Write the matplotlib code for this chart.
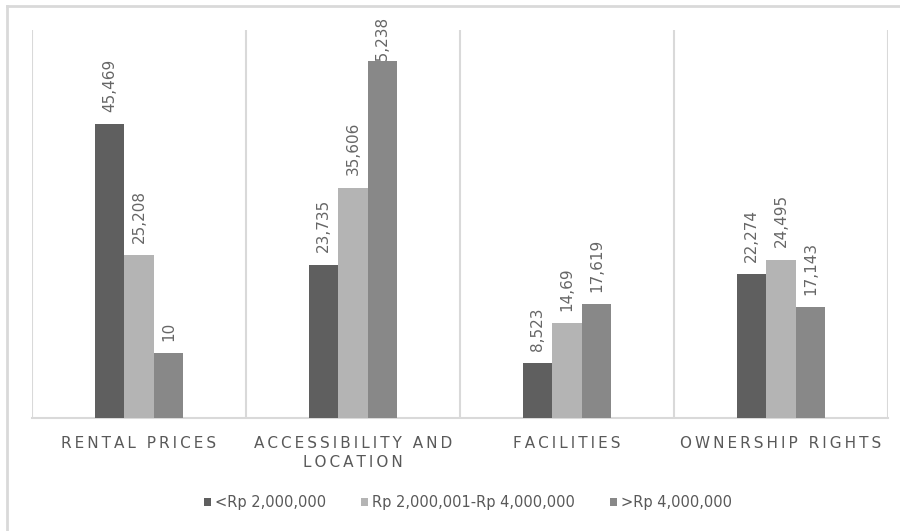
import numpy as np
import matplotlib.pyplot as plt
from matplotlib.lines import Line2D

categories = ['RENTAL PRICES', 'ACCESSIBILITY AND\nLOCATION', 'FACILITIES', 'OWNERSHIP RIGHTS']
series_names = ['<Rp 2,000,000', 'Rp 2,000,001-Rp 4,000,000', '>Rp 4,000,000']
low_income = [45.469, 23.735, 8.523, 22.274]
mid_income = [25.208, 35.606, 14.69, 24.495]
high_income = [10, 55.238, 17.619, 17.143]
value_labels = [
    ['45,469', '23,735', '8,523', '22,274'],
    ['25,208', '35,606', '14,69', '24,495'],
    ['10', '55,238', '17,619', '17,143'],
]

colors = ['#5f5f5f', '#b4b4b4', '#888888']
grid_color = '#d9d9d9'
text_color = '#595959'


def spaced(s):
    # wide letter spacing for the category captions
    return '\n'.join('\u2009'.join(line) for line in s.split('\n'))


fig = plt.figure(figsize=(9.0, 5.31), dpi=100)
ax = fig.add_axes([32 / 900, 113 / 531, 856 / 900, 388 / 531])

x = np.arange(len(categories))
w = 0.137
series = [low_income, mid_income, high_income]
for k, vals in enumerate(series):
    bars = ax.bar(x + (k - 1) * w, vals, w, color=colors[k], label=series_names[k], zorder=3)
    for b, lab in zip(bars, value_labels[k]):
        # labels that would run off the top get pushed down onto the bar
        y_lab = min(b.get_height() + 1.9, 54.0)
        ax.text(b.get_x() + b.get_width() / 2, y_lab, lab, rotation=90,
                ha='center', va='bottom', fontsize=11, color='#666666',
                zorder=2, clip_on=False)

ax.set_xlim(-0.5, len(categories) - 0.5)
ax.set_ylim(0, 60)

# category separators
for b in np.arange(-0.5, len(categories), 1.0):
    ax.axvline(b, color=grid_color, lw=1.5, zorder=0)

for s in ['top', 'right', 'left']:
    ax.spines[s].set_visible(False)
ax.spines['bottom'].set_color(grid_color)
ax.spines['bottom'].set_linewidth(1.5)
ax.set_yticks([])
ax.set_xticks(x)
ax.set_xticklabels([spaced(c) for c in categories], fontsize=11, color=text_color,
                   linespacing=1.35)
ax.tick_params(axis='x', length=0, pad=13)

ax.legend(loc='center', bbox_to_anchor=(468 / 900, 1 - 503 / 531), bbox_transform=fig.transFigure,
          ncol=3, frameon=False, fontsize=10.5, labelcolor=text_color,
          handlelength=0.5, handleheight=0.5, handletextpad=0.25, columnspacing=2.4)

# outer border (top and left edges)
fig.add_artist(Line2D([7 / 900, 1], [1 - 6 / 531, 1 - 6 / 531], color=grid_color, lw=2,
                      transform=fig.transFigure))
fig.add_artist(Line2D([7 / 900, 7 / 900], [0, 1 - 6 / 531], color=grid_color, lw=2,
                      transform=fig.transFigure))

fig.savefig('out.png', dpi=100)
